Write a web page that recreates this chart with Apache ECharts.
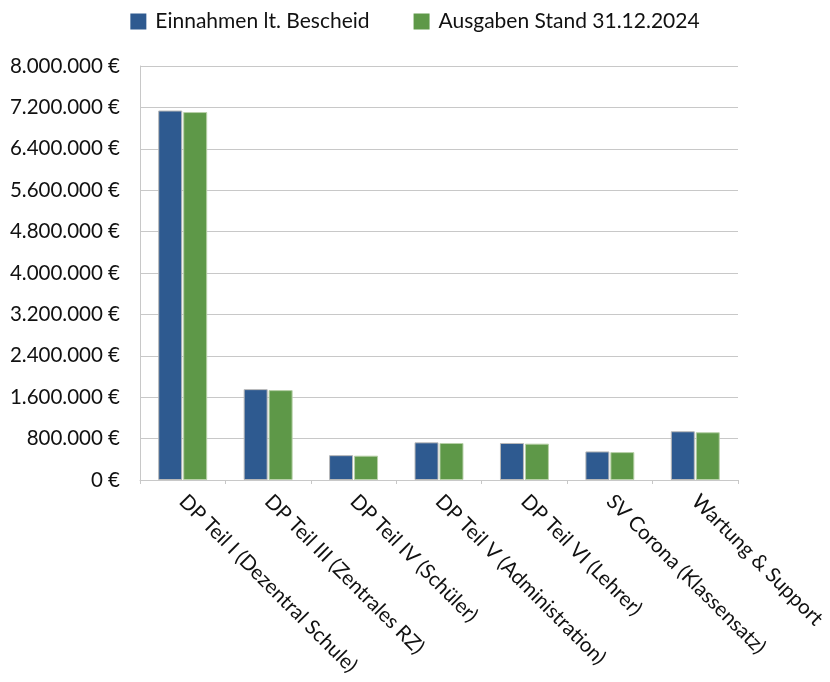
<!DOCTYPE html>
<html><head><meta charset="utf-8">
<script src="https://cdn.jsdelivr.net/npm/echarts@6/dist/echarts.min.js"></script>
<style>html,body{margin:0;padding:0;background:#fff}#c{width:830px;height:682px}</style>
</head><body><div id="c"></div>
<script>
const categories = ["DP Teil I (Dezentral Schule)","DP Teil III (Zentrales RZ)","DP Teil IV (Schüler)","DP Teil V (Administration)","DP Teil VI (Lehrer)","SV Corona (Klassensatz)","Wartung & Support"];
const einnahmen = [7140000, 1756000, 480000, 728000, 715000, 552000, 942000];
const ausgaben = [7110000, 1737000, 470000, 715000, 702000, 539000, 923000];
const seriesNames = ["Einnahmen lt. Bescheid","Ausgaben Stand 31.12.2024"];
const FONT = "Lato";
function fmt(v){ return String(v).replace(/\B(?=(\d{3})+(?!\d))/g, ".") + " €"; }
const chart = echarts.init(document.getElementById('c'));
chart.setOption({
  animation:false,
  textStyle:{fontFamily:FONT},
  legend:{top:6,left:'center',itemWidth:16,itemHeight:16,itemGap:44,icon:'rect',
    itemStyle:{borderWidth:0},
    textStyle:{fontSize:21,color:'#111',fontFamily:FONT,padding:[0,0,0,4]},data:seriesNames},
  grid:{left:140,right:92,top:66,bottom:202,containLabel:false},
  xAxis:{type:'category',data:categories,
    axisLine:{lineStyle:{color:'#c8c8c8',width:1}},
    axisTick:{show:true,alignWithLabel:false,length:4,lineStyle:{color:'#c8c8c8'}},
    axisLabel:{rotate:-45,interval:0,fontSize:20.5,color:'#111',fontFamily:FONT,margin:18}},
  yAxis:{type:'value',min:0,max:8000000,interval:800000,
    axisLine:{show:true,lineStyle:{color:'#c8c8c8'}},
    axisTick:{show:false},
    splitLine:{lineStyle:{color:'#c8c8c8',width:1}},
    axisLabel:{formatter:fmt,fontSize:20.5,color:'#111',fontFamily:FONT,margin:20}},
  series:[
    {name:seriesNames[0],type:'bar',data:einnahmen,barWidth:24,barGap:'4%',
      itemStyle:{color:'#2e5a90',borderColor:'#b8b8b8',borderWidth:1}},
    {name:seriesNames[1],type:'bar',data:ausgaben,barWidth:24,
      itemStyle:{color:'#5e9848',borderColor:'#b8d0a8',borderWidth:1}}
  ]
});
</script></body></html>
